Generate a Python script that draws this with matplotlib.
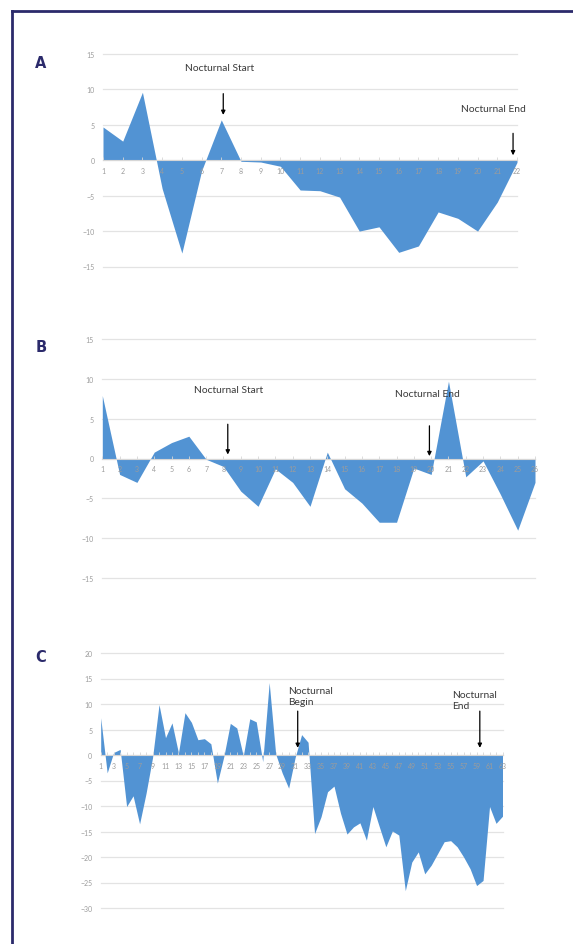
import matplotlib.pyplot as plt
from matplotlib.lines import Line2D
import numpy as np

plt.rcParams['font.family'] = ['Lato', 'DejaVu Sans']

# hourly differences, panel A (22 readings)
a_vals = [4.7, 2.7, 9.6, -4.0, -13.1, -1.5, 5.7, -0.15, -0.25, -0.85, -4.2,
          -4.3, -5.2, -10.0, -9.4, -13.0, -12.1, -7.3, -8.2, -10.0, -5.9, -0.3]

# panel B (26 readings)
b_vals = [7.9, -2.0, -3.0, 0.8, 2.0, 2.8, -0.1, -1.0, -4.1, -6.0, -1.3, -3.0,
          -6.0, 0.8, -3.8, -5.6, -8.0, -8.0, -1.2, -2.0, 9.7, -2.3, -0.3, -4.5,
          -9.0, -3.0]

# panel C (63 readings)
c_vals = [7.3, -3.5, 0.5, 1.1, -10.1, -8.0, -13.5, -7.5, -0.5, 9.9,
          3.4, 6.3, 0.4, 8.3, 6.4, 3.0, 3.2, 2.2, -5.5, -0.3,
          6.2, 5.3, -0.2, 7.1, 6.5, -1.3, 14.2, 0.2, -3.5, -6.5,
          -0.5, 4.0, 2.5, -15.4, -12.1, -7.2, -6.1, -11.4, -15.5, -14.1,
          -13.3, -16.7, -10.1, -14.1, -18.0, -14.9, -15.7, -26.6, -21.0, -19.0,
          -23.3, -21.6, -19.3, -17.0, -16.8, -18.0, -20.0, -22.3, -25.6, -24.6,
          -10.1, -13.4, -12.0]

a_yticks = [-15, -10, -5, 0, 5, 10, 15]
b_yticks = [-15, -10, -5, 0, 5, 10, 15]
c_yticks = [-30, -25, -20, -15, -10, -5, 0, 5, 10, 15, 20]

BLUE = '#5293d3'
NAVY = '#2b2a6b'
GRID = '#e3e3e3'
TICK_TXT = '#9c9c9c'

fig = plt.figure(figsize=(5.73, 9.45), dpi=100)


def panel(rect, vals, yticks, step):
    ax = fig.add_axes(rect)
    ax.set_facecolor('none')
    ax.set_axisbelow(False)
    x = np.arange(1, len(vals) + 1)
    ax.fill_between(x, 0, vals, color=BLUE, lw=0, zorder=1)
    ax.set_xlim(1, len(vals))
    ax.set_ylim(yticks[0], yticks[-1])
    for v in yticks:
        ax.axhline(v, color=GRID, lw=0.9, zorder=0, clip_on=False)
    ax.set_yticks(yticks)
    ax.set_xticks(x)
    ax.set_xticklabels([str(i) if (i - 1) % step == 0 else '' for i in x])
    for s in ['top', 'right', 'left']:
        ax.spines[s].set_visible(False)
    ax.spines['bottom'].set_position(('data', 0))
    ax.spines['bottom'].set_color('#d6d6d6')
    ax.spines['bottom'].set_linewidth(0.8)
    ax.spines['bottom'].set_zorder(2)
    ax.tick_params(axis='x', direction='in', length=2, width=0.6,
                   color='#d6d6d6', pad=5, labelsize=5, labelcolor=TICK_TXT)
    ax.tick_params(axis='y', length=0, pad=6, labelsize=5,
                   labelcolor=TICK_TXT)
    return ax


def marker(ax, x, y0, y1):
    ax.annotate('', xy=(x, y1), xytext=(x, y0),
                arrowprops=dict(arrowstyle='-|>', color='black', lw=0.9,
                                mutation_scale=6, shrinkA=0, shrinkB=0),
                zorder=4)


txt = dict(fontsize=7.4, color='#3a3a3a', zorder=5)

# A
ax_a = panel([103 / 573, 1 - 267.5 / 945, 414 / 573, 212.5 / 945],
             a_vals, a_yticks, 1)
ax_a.text(6.9, 13.1, 'Nocturnal Start', ha='center', va='center', **txt)
marker(ax_a, 7.1, 9.4, 6.4)
ax_a.text(20.8, 7.3, 'Nocturnal End', ha='center', va='center', **txt)
marker(ax_a, 21.8, 3.8, 0.7)

# B
ax_b = panel([102.3 / 573, 1 - 579 / 945, 432.7 / 573, 239 / 945],
             b_vals, b_yticks, 1)
ax_b.text(8.3, 8.6, 'Nocturnal Start', ha='center', va='center', **txt)
marker(ax_b, 8.25, 4.3, 0.5)
ax_b.text(19.8, 8.2, 'Nocturnal End', ha='center', va='center', **txt)
marker(ax_b, 19.9, 4.1, 0.3)

# C
ax_c = panel([100.7 / 573, 1 - 909 / 945, 401.8 / 573, 255 / 945],
             c_vals, c_yticks, 2)
ax_c.text(29.9, 11.6, 'Nocturnal\nBegin', ha='left', va='center',
          linespacing=1.3, **txt)
marker(ax_c, 31.4, 8.6, 1.4)
ax_c.text(55.2, 10.7, 'Nocturnal\nEnd', ha='left', va='center',
          linespacing=1.3, **txt)
marker(ax_c, 59.5, 8.6, 1.4)

# panel letters
for lab, ypix in [('A', 63), ('B', 347), ('C', 658)]:
    fig.text(41 / 573, 1 - ypix / 945, lab, ha='center', va='center',
             fontsize=10.5, fontweight='bold', color=NAVY, family='DejaVu Sans')

# frame (top and left edges)
fig.add_artist(Line2D([12 / 573, 1], [1 - 12 / 945, 1 - 12 / 945],
                      transform=fig.transFigure, color=NAVY, lw=2))
fig.add_artist(Line2D([12 / 573, 12 / 573], [1 - 12 / 945, 0],
                      transform=fig.transFigure, color=NAVY, lw=2))

fig.savefig('out.png', dpi=100)
